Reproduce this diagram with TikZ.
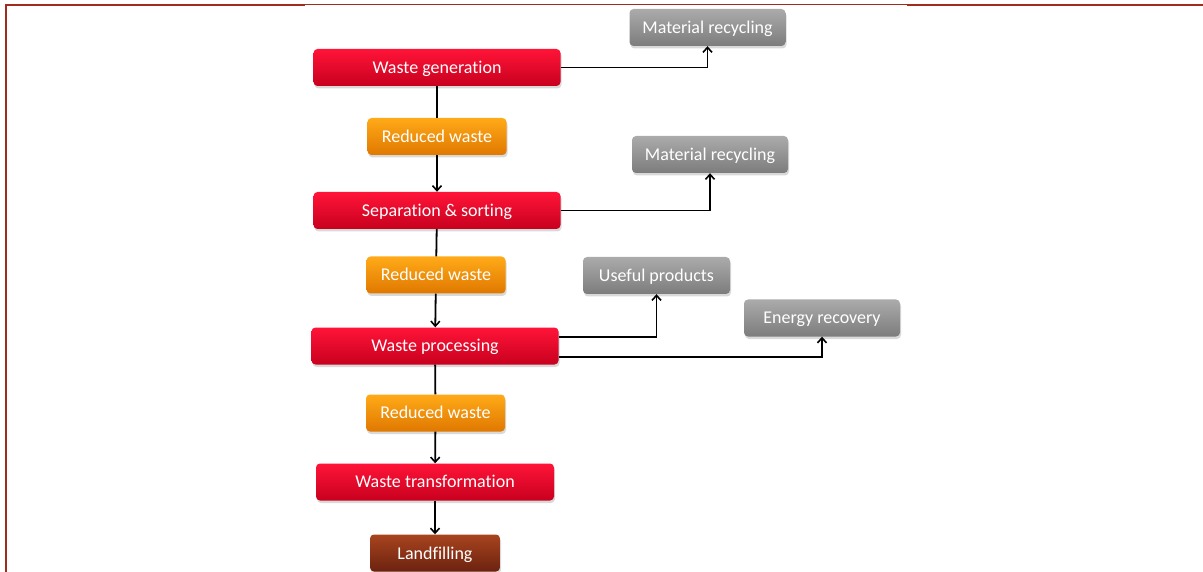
\documentclass[tikz,border=0pt]{standalone}
\usepackage{fontspec}
\setmainfont{Carlito}[Ligatures=NoCommon]
\usetikzlibrary{arrows.meta,shadows}

\definecolor{frame}{HTML}{A02C1C}
\definecolor{redtop}{HTML}{FF1438}
\definecolor{redbot}{HTML}{C8001E}
\definecolor{orangetop}{HTML}{FFAA18}
\definecolor{orangebot}{HTML}{E07800}
\definecolor{greytop}{HTML}{ABABAB}
\definecolor{greybot}{HTML}{7C7C7C}
\definecolor{browntop}{HTML}{A8441E}
\definecolor{brownbot}{HTML}{6C2210}

\begin{document}
\begin{tikzpicture}[x=1pt,y=-1pt,
  box/.style={rounded corners=4pt, minimum height=37pt, inner sep=2pt,
    text=white, font=\fontsize{18}{21}\selectfont, text depth=0.5pt,
    drop shadow={opacity=0.3, shadow xshift=1pt, shadow yshift=-2.5pt}},
  stage/.style={box, top color=redtop, bottom color=redbot, minimum width=247pt},
  reduced/.style={box, top color=orangetop, bottom color=orangebot, minimum width=139pt},
  outcome/.style={box, top color=greytop, bottom color=greybot, minimum width=156pt},
  landfill/.style={box, top color=browntop, bottom color=brownbot, minimum width=130pt},
  link/.style={draw=black, line width=1.8pt},
  flow/.style={link, -{Straight Barb[length=5pt,width=9pt,line width=1.6pt]}}]
  \useasboundingbox (0,0) rectangle (1203,572);

  % frame
  \draw[frame, line width=1pt] (6,5) -- (1203,5);
  \draw[frame, line width=2pt] (5,5) -- (305,5);
  \draw[frame, line width=2pt] (907,5) -- (1203,5);
  \draw[frame, line width=2.2pt] (6,4) -- (6,572);

  % main chain
  \node[stage] (gen) at (437,67.5) {Waste generation};
  \node[reduced] (red1) at (437,136.5) {Reduced waste};
  \node[stage] (sort) at (437,210.5) {Separation \& sorting};
  \node[reduced] (red2) at (436,275) {Reduced waste};
  \node[stage] (proc) at (435,346) {Waste processing};
  \node[reduced] (red3) at (435.5,413) {Reduced waste};
  \node[stage, minimum width=238pt] (trans) at (435,482) {Waste transformation};
  \node[landfill] (land) at (435,553) {Landfilling};

  % side outputs
  \node[outcome] (rec1) at (707.5,27.5) {Material recycling};
  \node[outcome] (rec2) at (710,154.5) {Material recycling};
  \node[outcome, minimum width=147pt] (useful) at (656.5,275.5) {Useful products};
  \node[outcome] (energy) at (822,318) {Energy recovery};

  % connectors
  \draw[link] (gen) -- (red1);
  \draw[flow] (red1) -- (sort);
  \draw[link] (sort) -- (red2);
  \draw[flow] (red2) -- (proc);
  \draw[link] (proc) -- (red3);
  \draw[flow] (red3) -- (trans);
  \draw[flow] (trans) -- (land);

  \draw[flow] (gen.east) -| (rec1.south);
  \draw[flow] (sort.east) -| (rec2.south);
  \draw[flow] ([yshift=9pt]proc.east) -| (useful.south);
  \draw[flow] ([yshift=-11pt]proc.east) -| (energy.south);
\end{tikzpicture}
\end{document}
